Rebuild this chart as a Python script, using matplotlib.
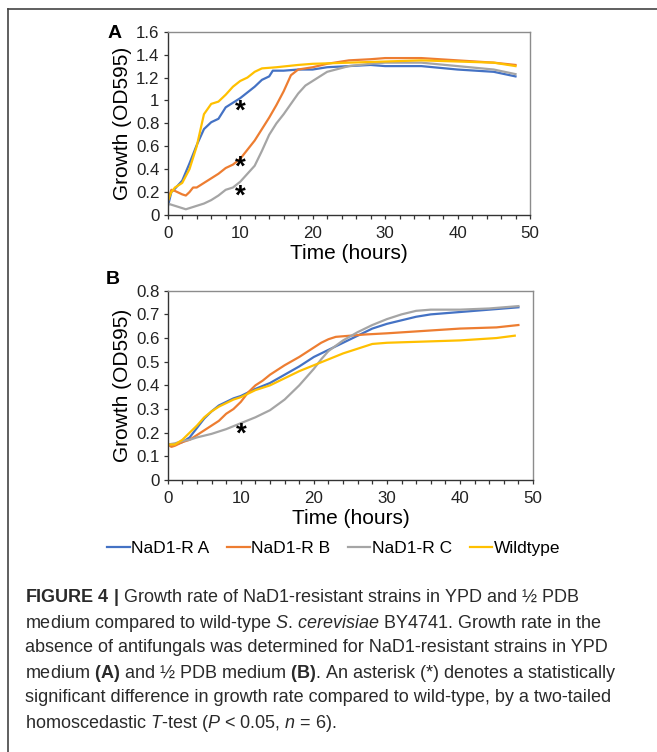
import matplotlib
matplotlib.use("Agg")
import matplotlib.pyplot as plt
from matplotlib.lines import Line2D
from matplotlib.ticker import MultipleLocator

plt.rcParams["font.family"] = ["Liberation Sans", "DejaVu Sans"]
plt.rcParams["mathtext.fontset"] = "custom"
plt.rcParams["mathtext.rm"] = "Liberation Sans"
plt.rcParams["mathtext.it"] = "Liberation Sans:italic"
plt.rcParams["mathtext.bf"] = "Liberation Sans:bold"

names = ["NaD1-R A", "NaD1-R B", "NaD1-R C", "Wildtype"]
colors = ["#4472C4", "#ED7D31", "#A5A5A5", "#FFC000"]

# panel A (YPD)
a_t_A = [0, 0.5, 1, 2, 3, 4, 5, 6, 7, 8, 9, 10, 11, 12, 13, 14, 14.5, 16, 18, 20, 22, 25,
         28, 30, 35, 40, 45, 48]
a_A = [0.07, 0.2, 0.23, 0.3, 0.45, 0.61, 0.75, 0.81, 0.84, 0.94, 0.98, 1.02, 1.07, 1.12,
       1.18, 1.21, 1.26, 1.26, 1.27, 1.27, 1.29, 1.30, 1.31, 1.30, 1.30, 1.27, 1.25, 1.21]
a_t_B = [0, 0.5, 1, 2, 2.5, 3, 3.5, 4, 5, 6, 7, 8, 9, 10, 11, 12, 13, 14, 15, 16, 17,
         18, 20, 22, 25, 28, 30, 35, 40, 45, 48]
a_B = [0.12, 0.22, 0.21, 0.18, 0.17, 0.2, 0.24, 0.24, 0.28, 0.32, 0.36, 0.41, 0.44,
       0.49, 0.57, 0.65, 0.75, 0.85, 0.96, 1.08, 1.22, 1.27, 1.29, 1.32, 1.35, 1.36,
       1.37, 1.37, 1.35, 1.33, 1.31]
a_t_C = [0, 1, 2, 2.5, 3, 4, 5, 6, 7, 8, 9, 10, 11, 12, 13, 14, 15, 16, 17, 18, 19, 20,
         22, 25, 28, 30, 35, 40, 45, 48]
a_C = [0.1, 0.08, 0.06, 0.05, 0.06, 0.08, 0.1, 0.13, 0.17, 0.22, 0.24, 0.29, 0.36, 0.43,
       0.56, 0.7, 0.8, 0.88, 0.97, 1.06, 1.13, 1.17, 1.25, 1.3, 1.32, 1.33, 1.33, 1.3,
       1.27, 1.23]
a_t_W = [0, 0.5, 1, 2, 3, 4, 5, 6, 7, 8, 9, 10, 11, 12, 13, 15, 18, 20, 25, 30, 35, 40,
         45, 48]
a_W = [0.12, 0.2, 0.24, 0.28, 0.4, 0.6, 0.88, 0.97, 0.99, 1.05, 1.12, 1.17, 1.2, 1.25,
       1.28, 1.29, 1.31, 1.32, 1.33, 1.34, 1.35, 1.34, 1.33, 1.30]

# panel B (1/2 PDB)
b_t = [0, 1, 2, 3, 4, 5, 6, 7, 8, 9, 10, 11, 12, 14, 16, 18, 20, 22, 24, 26, 28, 30,
       32, 34, 36, 40, 44, 48]
b_A = [0.15, 0.15, 0.16, 0.18, 0.22, 0.26, 0.29, 0.315, 0.33, 0.345, 0.355, 0.37,
       0.385, 0.41, 0.445, 0.48, 0.52, 0.55, 0.58, 0.61, 0.64, 0.66, 0.675, 0.69, 0.70,
       0.71, 0.72, 0.73]
b_t_B = [0, 0.5, 1, 2, 3, 4, 5, 6, 7, 8, 9, 10, 11, 12, 13, 14, 15, 16, 18, 20, 21,
         22, 23, 25, 27, 30, 35, 40, 45, 48]
b_B = [0.15, 0.14, 0.145, 0.16, 0.17, 0.19, 0.21, 0.23, 0.25, 0.28, 0.30, 0.33, 0.37,
       0.40, 0.42, 0.445, 0.465, 0.485, 0.52, 0.56, 0.58, 0.595, 0.605, 0.61, 0.615,
       0.62, 0.63, 0.64, 0.645, 0.655]
b_t_C = [0, 1, 2, 3, 4, 6, 8, 10, 12, 14, 16, 18, 20, 21, 22, 24, 26, 28, 30, 32, 34,
         36, 40, 44, 48]
b_C = [0.15, 0.155, 0.165, 0.17, 0.18, 0.195, 0.215, 0.24, 0.265, 0.295, 0.34, 0.40,
       0.47, 0.51, 0.545, 0.59, 0.625, 0.655, 0.68, 0.70, 0.715, 0.72, 0.72, 0.725,
       0.735]
b_t_W = [0, 1, 2, 3, 4, 5, 6, 7, 8, 9, 10, 11, 12, 14, 16, 18, 20, 22, 24, 26, 28, 30,
         35, 40, 45, 47.5]
b_W = [0.15, 0.15, 0.17, 0.20, 0.23, 0.265, 0.29, 0.31, 0.325, 0.34, 0.35, 0.365, 0.38,
       0.40, 0.43, 0.46, 0.485, 0.51, 0.535, 0.555, 0.575, 0.58, 0.585, 0.59, 0.60, 0.61]

stars_A = [0.9, 0.41, 0.16]
stars_B = [0.19]

caption = [
    r"$\mathbf{FIGURE\ 4\ |}$ Growth rate of NaD1-resistant strains in YPD and ½ PDB",
    r"medium compared to wild-type $\mathit{S}$. $\mathit{cerevisiae}$ BY4741. Growth rate in the",
    "absence of antifungals was determined for NaD1-resistant strains in YPD",
    r"medium $\mathbf{(A)}$ and ½ PDB medium $\mathbf{(B)}$. An asterisk (*) denotes a statistically",
    "significant difference in growth rate compared to wild-type, by a two-tailed",
    r"homoscedastic $\mathit{T}$-test ($\mathit{P}$ < 0.05, $\mathit{n}$ = 6).",
]


def style_axes(ax, ymax, ystep):
    ax.set_xlim(0, 50)
    ax.set_ylim(0, ymax)
    ax.xaxis.set_major_locator(MultipleLocator(10))
    ax.xaxis.set_minor_locator(MultipleLocator(2))
    ax.yaxis.set_major_locator(MultipleLocator(ystep))
    ax.tick_params(axis="both", which="major", direction="out", length=3, width=0.9,
                   labelsize=12.2, colors="#333333", labelcolor="#222222")
    ax.tick_params(axis="x", which="minor", direction="out", length=3, width=0.9,
                   colors="#333333")
    ax.tick_params(axis="y", pad=3)
    ax.tick_params(axis="x", pad=5)
    for s in ["left", "bottom"]:
        ax.spines[s].set_color("#333333")
        ax.spines[s].set_linewidth(1.0)
    for s in ["top", "right"]:
        ax.spines[s].set_color("#8c8c8c")
        ax.spines[s].set_linewidth(1.0)
    ax.set_xlabel("Time (hours)", fontsize=15, labelpad=2)
    ax.set_ylabel("Growth (OD595)", fontsize=15, labelpad=3)


def fmt_a(v, pos):
    return "%g" % round(v, 1)


fig = plt.figure(figsize=(6.57, 7.52), dpi=100)

axA = fig.add_axes([0.2553, 0.7141, 0.5514, 0.2437])
for t, v, c in zip([a_t_A, a_t_B, a_t_C, a_t_W], [a_A, a_B, a_C, a_W], colors):
    axA.plot(t, v, color=c, lw=1.6)
style_axes(axA, 1.6, 0.2)
axA.yaxis.set_major_formatter(plt.FuncFormatter(fmt_a))
for s in stars_A:
    axA.text(10, s, "*", fontsize=20, ha="center", va="center", fontweight="bold")

axB = fig.add_axes([0.2553, 0.3617, 0.556, 0.2517])
lines = []
for t, v, c in zip([b_t, b_t_B, b_t_C, b_t_W], [b_A, b_B, b_C, b_W], colors):
    ln, = axB.plot(t, v, color=c, lw=1.6)
    lines.append(ln)
style_axes(axB, 0.8, 0.1)
axB.yaxis.set_major_formatter(plt.FuncFormatter(fmt_a))
for s in stars_B:
    axB.text(10, s, "*", fontsize=20, ha="center", va="center", fontweight="bold")

fig.legend(lines, names, loc="center", bbox_to_anchor=(0.508, 1 - 548 / 752), ncol=4,
           frameon=False, fontsize=12.5, handlelength=1.3, handletextpad=0.1,
           columnspacing=1.0)

fig.text(115 / 657, 1 - 33 / 752, "A", fontsize=14, fontweight="bold", ha="center",
         va="center")
fig.text(113 / 657, 1 - 280 / 752, "B", fontsize=14, fontweight="bold", ha="center",
         va="center")

# caption
for i, line in enumerate(caption):
    fig.text(25 / 657, 1 - (598 + 25 * i) / 752, line, fontsize=13, ha="left",
             va="center", color="#2a2a2a")

# page border (top and left)
fig.add_artist(Line2D([8 / 657, 1], [1 - 9 / 752, 1 - 9 / 752], color="#444444", lw=1.2))
fig.add_artist(Line2D([8 / 657, 8 / 657], [1 - 9 / 752, 0], color="#444444", lw=1.2))

fig.savefig("out.png", dpi=100)
